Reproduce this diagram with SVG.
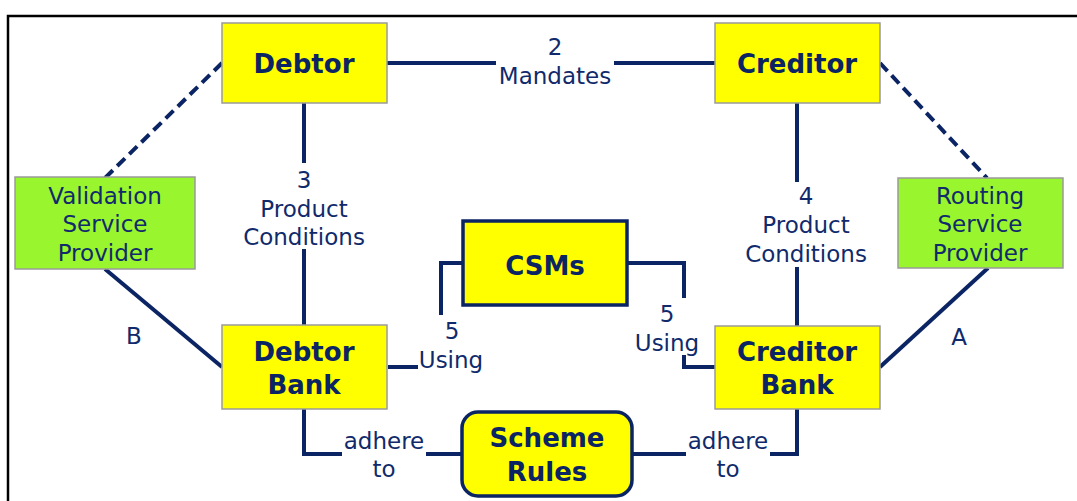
<svg xmlns="http://www.w3.org/2000/svg" width="1077" height="501" viewBox="0 0 1077 501">
<style>
.frame{fill:none;stroke:#000;stroke-width:2.5}
.yb{fill:#ffff00;stroke:#9a9a9a;stroke-width:1.5}
.gb{fill:#99f52e;stroke:#9a9a9a;stroke-width:1.5}
.nb{fill:#ffff00;stroke:#0b2463;stroke-width:3.5}
.ln{fill:none;stroke:#0b2463;stroke-width:4}
.dl{fill:none;stroke:#0b2463;stroke-width:4;stroke-dasharray:11 6}
.b{font-family:"DejaVu Sans",Verdana,sans-serif;font-weight:bold;font-size:26px;fill:#0b2463;text-anchor:middle}
.t{font-family:"DejaVu Sans",Verdana,sans-serif;font-size:23px;fill:#102a6b;text-anchor:middle}
</style>
<rect width="1077" height="501" fill="#fff"/>
<rect class="frame" x="8" y="16" width="1100" height="600"/>
<g id="connectors">
<path class="ln" d="M387 63H496M614 63H715"/>
<path class="dl" d="M222 63L105 178"/>
<path class="dl" d="M880 63L987 178"/>
<path class="ln" d="M304 103V163M304 249V325"/>
<path class="ln" d="M797 103V182M797 267V326"/>
<path class="ln" d="M105 269L222 367"/>
<path class="ln" d="M880 367L988 268"/>
<path class="ln" d="M463 263H441V315M388 367H418"/>
<path class="ln" d="M627 263H684V298M684 355V367H715"/>
<path class="ln" d="M304 409V454H342M426 454H462"/>
<path class="ln" d="M632 454H686M770 454H797V409"/>
</g>
<g id="labels">
<text class="t" x="555" y="55">2</text>
<text class="t" x="555" y="84">Mandates</text>
<text class="t" x="304" y="188">3</text>
<text class="t" x="304" y="217">Product</text>
<text class="t" x="304" y="245">Conditions</text>
<text class="t" x="806" y="204">4</text>
<text class="t" x="806" y="233">Product</text>
<text class="t" x="806" y="262">Conditions</text>
<text class="t" x="134" y="344">B</text>
<text class="t" x="959" y="345">A</text>
<text class="t" x="452" y="339">5</text>
<text class="t" x="451" y="368">Using</text>
<text class="t" x="667" y="322">5</text>
<text class="t" x="667" y="351">Using</text>
<text class="t" x="384" y="449">adhere</text>
<text class="t" x="384" y="477">to</text>
<text class="t" x="728" y="449">adhere</text>
<text class="t" x="728" y="477">to</text>
</g>
<g id="debtor"><rect class="yb" x="222" y="23" width="165" height="80"/><text class="b" x="304" y="73">Debtor</text></g>
<g id="creditor"><rect class="yb" x="715" y="23" width="165" height="80"/><text class="b" x="797" y="73">Creditor</text></g>
<g id="validation"><rect class="gb" x="15" y="177" width="180" height="92"/><text class="t" x="105" y="204">Validation</text><text class="t" x="105" y="232">Service</text><text class="t" x="105" y="261">Provider</text></g>
<g id="routing"><rect class="gb" x="898" y="178" width="165" height="90"/><text class="t" x="980" y="204">Routing</text><text class="t" x="980" y="232">Service</text><text class="t" x="980" y="261">Provider</text></g>
<g id="csms"><rect class="nb" x="463" y="221" width="164" height="84"/><text class="b" x="545" y="275">CSMs</text></g>
<g id="debtorbank"><rect class="yb" x="222" y="325" width="165" height="84"/><text class="b" x="304" y="361">Debtor</text><text class="b" x="304" y="394">Bank</text></g>
<g id="creditorbank"><rect class="yb" x="715" y="326" width="165" height="83"/><text class="b" x="797" y="361">Creditor</text><text class="b" x="797" y="394">Bank</text></g>
<g id="schemerules"><rect class="nb" x="462" y="412" width="170" height="84" rx="16"/><text class="b" x="547" y="447">Scheme</text><text class="b" x="547" y="481">Rules</text></g>
</svg>
